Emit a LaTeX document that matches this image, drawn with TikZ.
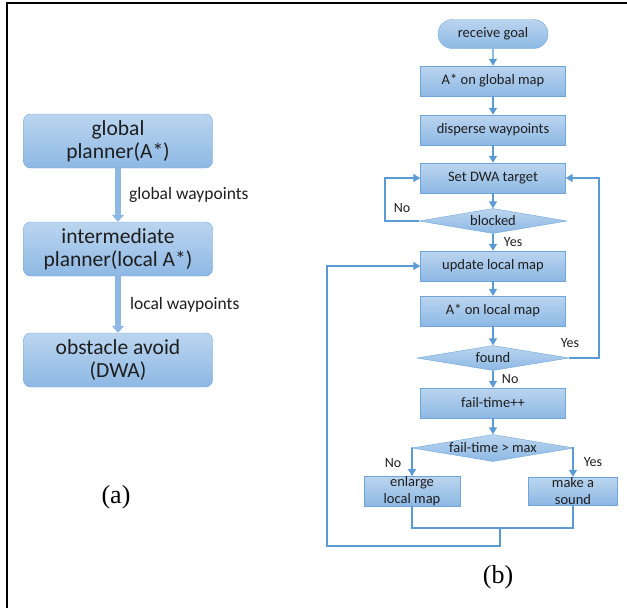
\documentclass[tikz,border=0pt]{standalone}
\usepackage{fontspec}
\setmainfont{Carlito}
\newfontfamily\capfont{Liberation Serif}
\usetikzlibrary{positioning, shapes.geometric, shapes.misc, arrows.meta}
\definecolor{boxtop}{HTML}{BBD5EF}
\definecolor{boxbot}{HTML}{8DB8E4}
\definecolor{boxline}{HTML}{6EA6DC}
\definecolor{flow}{HTML}{5B9BD5}
\definecolor{txt}{HTML}{1E1E1E}

\begin{document}
\begin{tikzpicture}[x=1pt,y=-1pt,on grid,
    plan/.style={draw=boxline, top color=boxtop, bottom color=boxbot, rounded corners=7pt,
      minimum width=189pt, minimum height=54pt, inner sep=0pt, align=center, text=txt,
      font=\fontsize{21.5}{23}\selectfont},
    stepbox/.style={draw=boxline, top color=boxtop, bottom color=boxbot,
      minimum width=145pt, minimum height=30pt, inner sep=0pt, align=center, text=txt,
      font=\fontsize{14.5}{17}\selectfont},
    startbox/.style={stepbox, rounded rectangle, minimum width=110pt, minimum height=29pt},
    check/.style={stepbox, diamond, aspect=6},
    fat/.style={draw=boxbot, line width=5.5pt, -{Triangle[width=12pt,length=7pt]}},
    flowline/.style={draw=flow, line width=1.3pt},
    arr/.style={flowline, -{Triangle[width=8pt,length=7pt]}},
    lbl/.style={text=txt, font=\fontsize{14}{14}\selectfont},
    wlbl/.style={text=txt, font=\fontsize{17.5}{18}\selectfont},
    sublabel/.style={font=\capfont\fontsize{26}{26}\selectfont}]
  \useasboundingbox (0,0) rectangle (627,608);
  \draw[line width=2.5pt] (7,608) -- (7,3) -- (627,3);

  \node[plan] (gp) at (118,141) {global\\planner(A*)};
  \node[plan] (ip) [below=108pt of gp] {intermediate\\planner(local A*)};
  \node[plan] (oa) [below=111pt of ip] {obstacle avoid\\(DWA)};
  \path[fat] (gp) -- node[wlbl, right=5pt] {global waypoints} (ip);
  \path[fat] (ip) -- node[wlbl, right=6pt] {local waypoints} (oa);
  \node[sublabel] (capa) at (116,497) {(a)};

  \node[startbox] (goal) at (493,34) {receive goal};
  \node[stepbox] (gmap) [below=47pt of goal] {A* on global map};
  \node[stepbox] (disp) [below=49pt of gmap] {disperse waypoints};
  \node[stepbox] (dwa) [below=48pt of disp] {Set DWA target};
  \node[check, minimum width=148pt, minimum height=25pt] (blocked) [below=43pt of dwa] {blocked};
  \node[stepbox] (update) [below=45pt of blocked] {update local map};
  \node[stepbox] (lmap) [below=45pt of update] {A* on local map};
  \node[check, minimum width=152pt, minimum height=25pt] (found) [below=47pt of lmap] {found};
  \node[stepbox] (fail) [below=45pt of found] {fail-time++};
  \node[check, minimum width=162pt, minimum height=27pt] (failmax) [below=45pt of fail] {fail-time > max};
  \node[stepbox, minimum width=96pt, minimum height=28pt] (enlarge) [below left=43pt and 81pt of failmax] {enlarge\\local map};
  \node[stepbox, minimum width=89pt, minimum height=28pt] (sound) [below right=43pt and 80pt of failmax] {make a\\sound};
  \node[sublabel] (capb) at (498,577) {(b)};

  \coordinate (noturn) at (385,221);
  \coordinate (yesturn) at (599,358);
  \coordinate (join) at (500,528);
  \coordinate (back) at (500,546);
  \coordinate (backturn) at (327,546);

  \path[arr] (goal) -- (gmap);
  \path[arr] (gmap) -- (disp);
  \path[arr] (disp) -- (dwa);
  \path[arr] (dwa) -- (blocked);
  \path[arr] (blocked) -- node[lbl, right=7pt] {Yes} (update);
  \path[arr] (update) -- (lmap);
  \path[arr] (lmap) -- (found);
  \path[arr] (found) -- node[lbl, right=5pt] {No} (fail);
  \path[arr] (fail) -- (failmax);
  \path[arr] (blocked.west) -- (noturn) |- (dwa.west);
  \path[arr] (found.east) -- (yesturn) |- (dwa.east);
  \path[arr] (failmax.west) -| (enlarge.north);
  \path[arr] (failmax.east) -| (sound.north);
  \path[flowline] (enlarge.south) |- (join) -| (sound.south);
  \path[arr] (join) -- (back) -- (backturn) |- (update.west);
  \node[lbl] (no1) at (402,208) {No};
  \node[lbl] (yes2) at (570,343) {Yes};
  \node[lbl] (no3) at (393,463) {No};
  \node[lbl] (yes3) at (593,462) {Yes};
\end{tikzpicture}
\end{document}
